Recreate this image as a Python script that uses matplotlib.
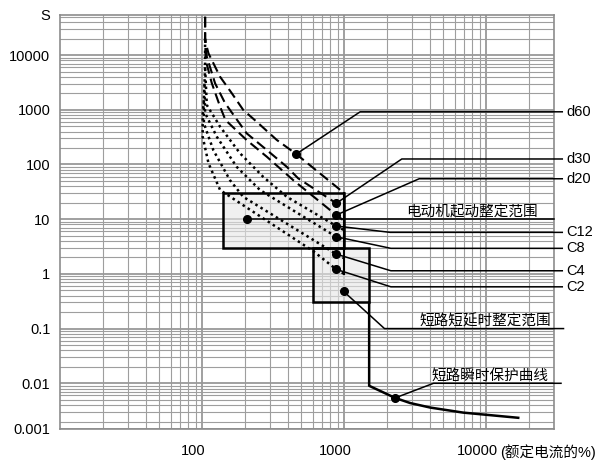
import matplotlib
matplotlib.use("Agg")
import matplotlib.pyplot as plt
import matplotlib.transforms as mtransforms
from matplotlib.patches import Rectangle
from matplotlib.ticker import LogLocator, NullFormatter, FixedLocator, FixedFormatter

plt.rcParams["font.family"] = ["Liberation Sans", "Noto Sans CJK SC"]
plt.rcParams["font.size"] = 10.5

# ---- data (x: % of rated current, t: seconds) ----
d60_x = [105, 105, 106, 111, 134, 162, 195, 243, 336, 460, 1000]
d60_t = [50000, 20000, 17000, 10700, 4000, 2000, 990, 600, 280, 155, 30]
d30_x = [105, 105, 108, 123.5, 145, 206, 286, 394, 474, 880, 1000]
d30_t = [50000, 20000, 9300, 3040, 1330, 371, 183, 91, 56, 19.5, 15.5]
d20_x = [105, 105, 106, 117, 134, 146, 206, 286, 437, 880, 1000]
d20_t = [50000, 20000, 8100, 3080, 1135, 650, 279, 138, 52, 11.9, 9.3]

c12_x = [105, 105, 108, 134, 185, 269, 394, 880, 1000]
c12_t = [20000, 6000, 1220, 489, 160, 59.6, 25.7, 7.5, 6.3]
c8_x = [105, 104, 105, 127, 175, 256, 880, 1000]
c8_t = [6000, 3000, 871, 321, 90.8, 34, 4.77, 4.0]
c4_x = [104, 103, 103, 120, 157, 194.5, 880, 1000]
c4_t = [3000, 1500, 564, 183, 51.9, 25.7, 2.3, 1.93]
c2_x = [103, 101, 101, 111, 134, 605, 880, 1000]
c2_t = [1500, 800, 321, 105, 34, 2.61, 1.21, 1.0]

# long-time end, short-delay and instantaneous protection
lt_end_x = [1000, 1000]
lt_end_t = [30, 1.0]
inst_x = [1500, 1500, 2285, 2920, 4035, 6890, 16800]
inst_t = [0.3, 0.009, 0.0054, 0.00435, 0.0036, 0.00291, 0.00234]

motor_box = (140, 1000, 3, 30)     # x0, x1, t0, t1
short_box = (600, 1500, 0.3, 3)

# labels: (text, dot x, dot t, elbow x, elbow t)
right_labels = [
    ("d60", 460, 155, 1297, 918),
    ("d30", 880, 19.5, 2546, 126),
    ("d20", 880, 11.9, 3373, 54.8),
    ("C12", 880, 7.5, 2108, 5.74),
    ("C8", 880, 4.77, 2133, 2.93),
    ("C4", 880, 2.3, 2133, 1.14),
    ("C2", 880, 1.21, 2133, 0.58),
]
cjk_labels = [
    ("电动机起动整定范围", 206, 10, 206, 10, 30000, 22900),
    ("短路短延时整定范围", 990, 0.48, 1923, 0.1, 35000, 28600),
    ("短路瞬时保护曲线", 2285, 0.0054, 4256, 0.01, 33600, 27400),
]

y_ticks = [0.00146, 0.01, 0.1, 1, 10, 100, 1000, 10000]
y_tick_labels = ["0.001", "0.01", "0.1", "1", "10", "100", "1000", "10000"]
x_ticks = [100, 1000, 10000]
x_tick_labels = ["100", "1000", "10000"]

# ---- figure ----
fig = plt.figure(figsize=(6.03, 4.61), dpi=100)
ax = fig.add_axes([60 / 603, 1 - 429 / 461, (554 - 60) / 603, (429 - 15) / 461])
ax.set_xscale("log"); ax.set_yscale("log")
ax.set_xlim(10, 30000); ax.set_ylim(0.00146, 54000)

ax.xaxis.set_major_locator(FixedLocator(x_ticks))
ax.xaxis.set_major_formatter(FixedFormatter(x_tick_labels))
ax.xaxis.set_minor_locator(LogLocator(base=10, subs=range(2, 10), numticks=20))
ax.xaxis.set_minor_formatter(NullFormatter())
ax.yaxis.set_major_locator(FixedLocator(y_ticks))
ax.yaxis.set_major_formatter(FixedFormatter(y_tick_labels))
ax.yaxis.set_minor_locator(LogLocator(base=10, subs=range(2, 10), numticks=20))
ax.yaxis.set_minor_formatter(NullFormatter())
ax.tick_params(which="both", length=0)
ax.tick_params(axis="x", pad=11)
ax.tick_params(axis="y", pad=7)
ax.grid(which="major", color="0.6", lw=1.3)
ax.grid(which="minor", color="0.62", lw=0.8)
ax.set_axisbelow(True)
for s in ax.spines.values():
    s.set_color("0.55"); s.set_linewidth(1.2)

offset = mtransforms.ScaledTranslation(-9 / 100, 0, fig.dpi_scale_trans)
for lab in ax.get_xticklabels():
    lab.set_transform(lab.get_transform() + offset)

# boxes
for x0, x1, t0, t1 in (motor_box, short_box):
    ax.add_patch(Rectangle((x0, t0), x1 - x0, t1 - t0, fc="0.9", alpha=0.6,
                           ec="none", zorder=2))
    ax.add_patch(Rectangle((x0, t0), x1 - x0, t1 - t0, fc="none", ec="black",
                           lw=1.8, zorder=4))

dash = (0, (5, 2.5)); dot = (0, (1, 1.4))
for xs, ts in ((d60_x, d60_t), (d30_x, d30_t), (d20_x, d20_t)):
    ax.plot(xs, ts, color="black", lw=1.5, ls=dash, zorder=3)
for xs, ts in ((c12_x, c12_t), (c8_x, c8_t), (c4_x, c4_t), (c2_x, c2_t)):
    ax.plot(xs, ts, color="black", lw=1.8, ls=dot, zorder=3)
ax.plot(lt_end_x, lt_end_t, color="black", lw=1.5, zorder=4)
ax.plot(inst_x, inst_t, color="black", lw=1.8, zorder=4)

lead_end = 34300; label_x = 36600
for text, dx, dt, ex, et in right_labels:
    ax.plot([dx, ex, lead_end], [dt, et, et], color="black", lw=1.1, zorder=5,
            clip_on=False)
    ax.plot(dx, dt, "o", color="black", ms=5.5, zorder=6)
    ax.text(label_x, et, text, ha="left", va="center", clip_on=False)

for text, dx, dt, ex, et, end, tx in cjk_labels:
    ax.plot([dx, ex, end], [dt, et, et], color="black", lw=1.1, zorder=5,
            clip_on=False)
    ax.plot(dx, dt, "o", color="black", ms=5.5, zorder=6)
    ax.text(tx, et, text, ha="right", va="bottom", clip_on=False)

fig.text(50 / 603, 1 - 16 / 461, "S", ha="right", va="center")
fig.text(500 / 603, 1 - 452 / 461, "(额定电流的%)", ha="left", va="center")

fig.savefig("out.png", dpi=100)
